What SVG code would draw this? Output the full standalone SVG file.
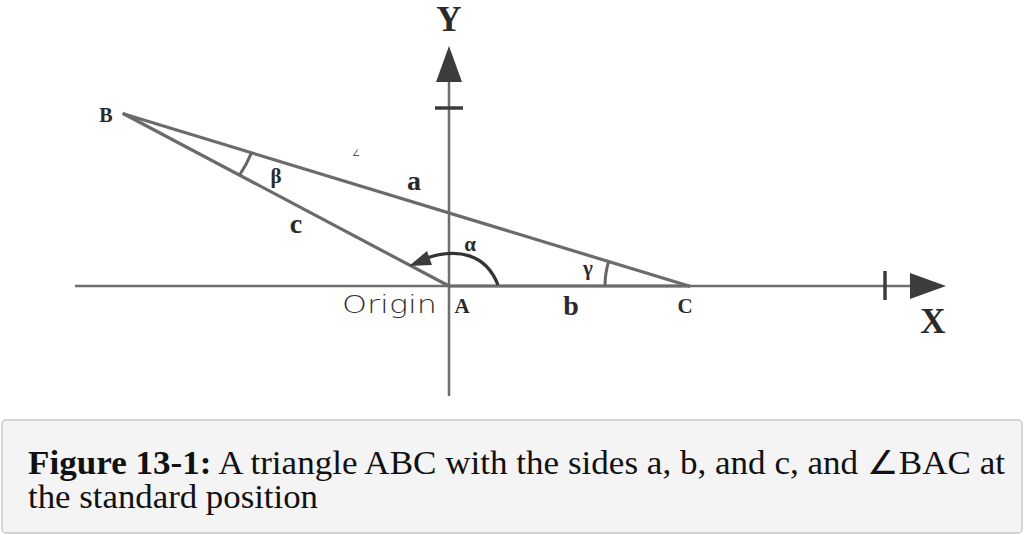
<svg xmlns="http://www.w3.org/2000/svg" width="1024" height="535" viewBox="0 0 1024 535">
<defs>
<style>
.ax{stroke:#6e6e6e;stroke-width:2.5;fill:none}
.ln{stroke:#6b6b6b;stroke-width:3.2;fill:none;stroke-linecap:round}
.arc{stroke:#666;stroke-width:3;fill:none}
.head{fill:#3c3c3c}
.lbl{font-family:"Liberation Serif","Times New Roman",serif;font-weight:bold;fill:#2a2a2a}
.cap{font-family:"Liberation Serif","Times New Roman",serif;font-size:33px;fill:#111}
</style>
</defs>
<rect width="1024" height="535" fill="#ffffff"/>
<g id="axes">
<line class="ax" x1="75" y1="286" x2="912" y2="286"/>
<polygon class="head" points="946,286 910,273 910,299"/>
<line x1="885" y1="271" x2="885" y2="300" stroke="#3c3c3c" stroke-width="3.5"/>
<line class="ax" x1="449" y1="396" x2="449" y2="80"/>
<polygon class="head" points="449,46 436,82 462,82"/>
<line x1="435" y1="108" x2="463" y2="108" stroke="#3c3c3c" stroke-width="3.5"/>
<text class="lbl" x="449" y="31" font-size="35" text-anchor="middle">Y</text>
<text class="lbl" x="933" y="333" font-size="35" text-anchor="middle">X</text>
</g>
<g id="connectors">
<line class="ln" x1="449" y1="286" x2="124" y2="114"/>
<line class="ln" x1="124" y1="114" x2="689" y2="286"/>
<line class="ln" x1="449" y1="286" x2="689" y2="286"/>
<path class="arc" d="M 251.5 152.8 A 131 131 0 0 1 239.5 175.1"/>
<path class="arc" d="M 608.6 261.5 A 84 84 0 0 0 605 286"/>
<path d="M 498 285 C 486 254 458 247 424 259" stroke="#333" stroke-width="3.2" fill="none"/>
<polygon class="head" points="409,266 427,251 432,265"/>
</g>
<g id="node-B"><text class="lbl" x="106" y="122" font-size="20" text-anchor="middle">B</text></g>
<g id="node-A"><text class="lbl" x="462" y="313" font-size="21" text-anchor="middle">A</text>
<text x="437" y="313" font-family="DejaVu Sans,sans-serif" font-size="24" fill="#333" text-anchor="end" textLength="95" lengthAdjust="spacingAndGlyphs" font-weight="300">Origin</text></g>
<g id="node-C"><text class="lbl" x="685" y="313" font-size="21" text-anchor="middle">C</text></g>
<g id="labels">
<text class="lbl" x="414" y="190" font-size="28" text-anchor="middle">a</text>
<text class="lbl" x="571" y="315" font-size="28" text-anchor="middle">b</text>
<text class="lbl" x="296" y="233" font-size="28" text-anchor="middle">c</text>
<text class="lbl" x="276" y="183" font-size="21" text-anchor="middle">β</text>
<text class="lbl" x="470" y="251" font-size="21" text-anchor="middle">α</text>
<text class="lbl" x="588" y="275" font-size="21" text-anchor="middle">γ</text>
<text x="356" y="156" font-family="DejaVu Sans,sans-serif" font-size="9" fill="#555" text-anchor="middle">∠</text>
</g>
<g id="caption">
<rect x="2" y="420" width="1020" height="113" rx="4" fill="#f4f4f4" stroke="#c8c8c8" stroke-width="1.5"/>
<text class="cap" x="28" y="474" textLength="977" lengthAdjust="spacingAndGlyphs"><tspan font-weight="bold">Figure 13-1:</tspan> A triangle ABC with the sides a, b, and c, and ∠BAC at</text>
<text class="cap" x="28" y="508" textLength="290" lengthAdjust="spacingAndGlyphs">the standard position</text>
</g>
</svg>
